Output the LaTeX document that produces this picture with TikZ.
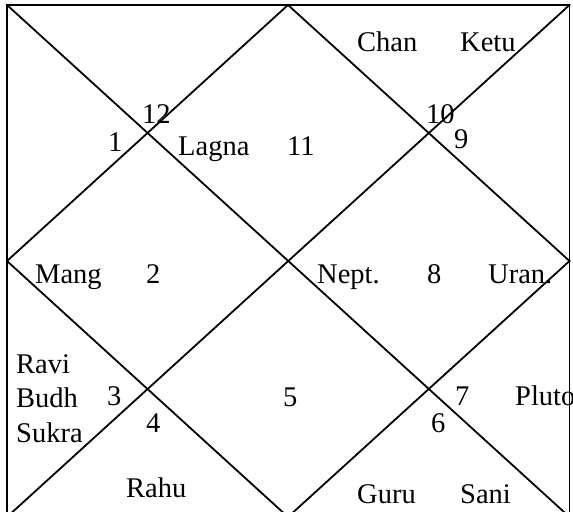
\documentclass[tikz,border=0pt]{standalone}
\usepackage{fontspec}
\setmainfont{Liberation Serif}
\begin{document}
\begin{tikzpicture}[x=1bp,y=-1bp,
  chartline/.style={line width=1.8bp, line cap=rect},
  lbl/.style={anchor=base west, inner sep=0pt, font=\fontsize{28.6pt}{30pt}\selectfont}]
\useasboundingbox (0,0) rectangle (573,512);
\clip (0,0) rectangle (573,512);
\coordinate (TL) at (7,5);
\coordinate (TR) at (569.5,5);
\coordinate (BL) at (7,517);
\coordinate (BR) at (569.5,517);
\coordinate (TM) at (288,5);
\coordinate (LM) at (7,261);
\coordinate (RM) at (569.5,261);
\coordinate (BM) at (288,517);
% text
\node[lbl] (chan) at (357,52) {Chan};
\node[lbl] (ketu) at (460,52) {Ketu};
\node[lbl] (h12) at (142,124) {12};
\node[lbl] (h1) at (108,152) {1};
\node[lbl] (lagna) at (178,156) {Lagna};
\node[lbl] (h11) at (287,156) {11};
\node[lbl] (h10) at (426,124) {10};
\node[lbl] (h9) at (454,149) {9};
\node[lbl] (mang) at (35,283) {Mang};
\node[lbl] (h2) at (146,283) {2};
\node[lbl] (nept) at (317,283) {Nept.};
\node[lbl] (h8) at (427,283) {8};
\node[lbl] (uran) at (488,283) {Uran.};
\node[lbl] (ravi) at (16,373) {Ravi};
\node[lbl] (budh) at (16,407) {Budh};
\node[lbl] (sukra) at (16,442) {Sukra};
\node[lbl] (h3) at (107,405) {3};
\node[lbl] (h4) at (146,432) {4};
\node[lbl] (h5) at (283,406) {5};
\node[lbl] (h7) at (455,405) {7};
\node[lbl] (h6) at (431,432) {6};
\node[lbl] (pluto) at (515,405) {Pluto};
\node[lbl] (rahu) at (126,497) {Rahu};
\node[lbl] (guru) at (357,503) {Guru};
\node[lbl] (sani) at (460,503) {Sani};
% lines
\draw[chartline] (TL) rectangle (BR);
\draw[chartline] (TL) -- (BR);
\draw[chartline] (TR) -- (BL);
\draw[chartline] (TM) -- (LM) -- (BM) -- (RM) -- cycle;
\end{tikzpicture}
\end{document}
